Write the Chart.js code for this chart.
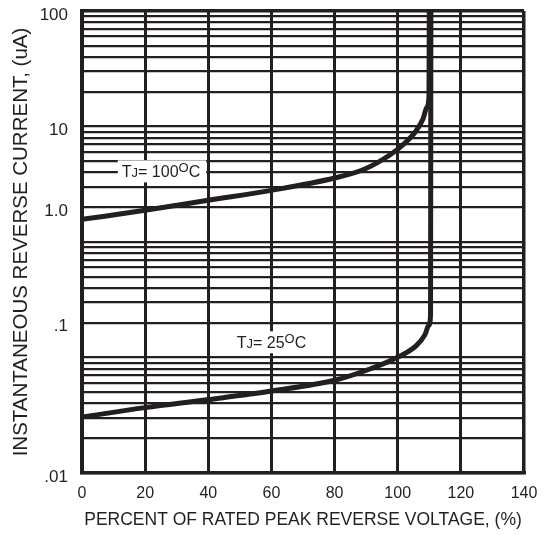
<!DOCTYPE html>
<html>
<head>
<meta charset="utf-8">
<script src="https://cdn.jsdelivr.net/npm/chart.js@4.4.1/dist/chart.umd.min.js"></script>
<style>
    html, body { margin: 0; padding: 0; background: #fff; }
    #wrap { width: 556px; height: 535px; position: relative; }
</style>
</head>
<body>
<div id="wrap"><canvas id="grafico"></canvas></div>
<script>
// curva TJ = 100 C  (x = % da tensao reversa, y = uA)
var tj100X = [0, 20, 40, 60, 80, 89.6, 97.5, 102.3, 105.8, 108, 109.3, 109.9, 110];
var tj100Y = [1.57, 1.88, 2.3, 2.8, 3.58, 4.29, 5.66, 7.2, 9.14, 11.6, 14.8, 18.4, 100];

// curva TJ = 25 C
var tj25X = [0, 20, 40, 60, 80, 91.2, 99.8, 105.8, 108.6, 109.9, 110.4, 110.5];
var tj25Y = [0.0305, 0.0368, 0.0432, 0.0513, 0.0635, 0.0795, 0.1, 0.126, 0.157, 0.191, 0.233, 100];

// eixos
var xTicks = [0, 20, 40, 60, 80, 100, 120, 140];
var yGrid = [0.01, 0.02, 0.03, 0.04, 0.05, 0.06, 0.07, 0.08, 0.09,
             0.1, 0.2, 0.3, 0.4, 0.5, 0.6, 0.7, 0.8, 0.9,
             1, 2, 3, 4, 5, 6, 7, 8, 9,
             10, 20, 30, 40, 50, 60, 70, 80, 90, 100];
var yLabelAt = [100, 10, 2, 0.2, 0.01];
var yLabelText = ['100', '10', '1.0', '.1', '.01'];

// rotulos das curvas
var labelTemp = ['100', '25'];
var labelX = [12.6, 49];
var labelY = [4.09, 0.1355];

var cor = '#231f20';
var fonte = "'Liberation Sans', Arial, sans-serif";

function pontos(xs, ys){
    var arr = [];
    for(var i = 0; i < xs.length; i++){
        arr.push({x: xs[i], y: ys[i]});
    }
    return arr;
}

var rotulos = {
    id: 'rotulos',
    afterDatasetsDraw: function(chart){
        var ctx = chart.ctx;
        var sx = chart.scales.x;
        var sy = chart.scales.y;
        for(var i = 0; i < labelTemp.length; i++){
            var px = sx.getPixelForValue(labelX[i]);
            var py = sy.getPixelForValue(labelY[i]);
            var partes = [
                {t: 'T', s: 16, up: 0},
                {t: 'J', s: 13, up: 0},
                {t: '= ' + labelTemp[i], s: 16, up: 0},
                {t: 'O', s: 13, up: 5},
                {t: 'C', s: 16, up: 0}
            ];
            ctx.save();
            var w = 0;
            for(var k = 0; k < partes.length; k++){
                ctx.font = partes[k].s + 'px ' + fonte;
                partes[k].w = ctx.measureText(partes[k].t).width;
                w += partes[k].w;
            }
            ctx.fillStyle = '#fff';
            ctx.fillRect(px - 4, py - 11, w + 10, 22);
            ctx.fillStyle = cor;
            ctx.textBaseline = 'alphabetic';
            ctx.textAlign = 'left';
            var cx = px;
            for(var k = 0; k < partes.length; k++){
                ctx.font = partes[k].s + 'px ' + fonte;
                ctx.fillText(partes[k].t, cx, py + 6 - partes[k].up);
                cx += partes[k].w;
            }
            ctx.restore();
        }
    }
};

var $canvas = document.getElementById('grafico').getContext('2d');
var grafico = new Chart($canvas, {
    type: 'line',
    data: {
        datasets: [
            {
                label: 'TJ = 100',
                data: pontos(tj100X, tj100Y),
                borderColor: cor,
                borderWidth: 5,
                pointRadius: 0,
                cubicInterpolationMode: 'monotone',
                fill: false
            },
            {
                label: 'TJ = 25',
                data: pontos(tj25X, tj25Y),
                borderColor: cor,
                borderWidth: 5,
                pointRadius: 0,
                cubicInterpolationMode: 'monotone',
                fill: false
            }
        ]
    },
    options: {
        responsive: true,
        maintainAspectRatio: false,
        animation: false,
        layout: { padding: { top: 11, right: 32, bottom: 0, left: 0 } },
        plugins: {
            legend: { display: false },
            tooltip: { enabled: false }
        },
        scales: {
            x: {
                type: 'linear',
                min: 0,
                max: 140,
                afterBuildTicks: function(scale){
                    scale.ticks = xTicks.map(function(v){ return {value: v}; });
                },
                afterFit: function(scale){
                    scale.height = 62;
                    scale.paddingLeft = 0;
                    scale.paddingRight = 0;
                },
                grid: {
                    color: cor,
                    lineWidth: function(c){ return c.tick && c.tick.value === 140 ? 3.5 : 3; },
                    drawTicks: false
                },
                border: { display: true, color: cor, width: 3.5 },
                ticks: {
                    color: cor,
                    padding: 11,
                    autoSkip: false,
                    maxRotation: 0,
                    font: { family: fonte, size: 16 }
                },
                title: {
                    display: true,
                    text: 'PERCENT OF RATED PEAK REVERSE VOLTAGE, (%)',
                    color: cor,
                    font: { family: fonte, size: 17.5 },
                    padding: { top: 0, bottom: 4.5 }
                }
            },
            y: {
                type: 'logarithmic',
                min: 0.01,
                max: 100,
                afterBuildTicks: function(scale){
                    scale.ticks = yGrid.map(function(v){ return {value: v}; });
                },
                afterFit: function(scale){
                    // largura fixa e sem folga extra em cima/baixo
                    scale.width = 82;
                    scale.paddingTop = 0;
                    scale.paddingBottom = 0;
                },
                grid: {
                    color: cor,
                    lineWidth: function(c){ return c.tick && c.tick.value === 100 ? 3.5 : 2.3; },
                    drawTicks: false
                },
                border: { display: true, color: cor, width: 4 },
                ticks: {
                    color: cor,
                    padding: 14,
                    autoSkip: false,
                    labelOffset: 4,
                    font: { family: fonte, size: 17 },
                    callback: function(value){
                        for(var i = 0; i < yLabelAt.length; i++){
                            if(Math.abs(value - yLabelAt[i]) < yLabelAt[i] * 1e-6){
                                return yLabelText[i];
                            }
                        }
                        return '';
                    }
                },
                title: {
                    display: true,
                    text: 'INSTANTANEOUS REVERSE CURRENT, (uA)',
                    color: cor,
                    font: { family: fonte, size: 20.5 },
                    padding: { top: 9.4, bottom: 0 }
                }
            }
        }
    },
    plugins: [rotulos]
});
</script>
</body>
</html>
